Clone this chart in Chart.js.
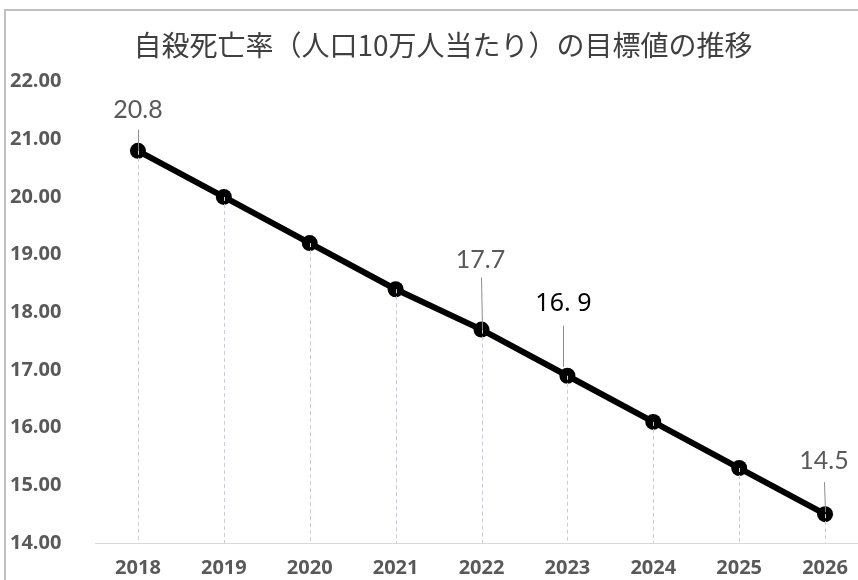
<!DOCTYPE html>
<html>
<head>
<meta charset="utf-8">
<script src="https://cdn.jsdelivr.net/npm/chart.js@4/dist/chart.umd.min.js"></script>
<style>
  html, body { margin: 0; padding: 0; width: 858px; height: 580px; overflow: hidden; background: #fff; }
  #marco { position: absolute; left: 4px; top: 9px; width: 870px; height: 569px;
           border-top: 2px solid #c0c0c0; border-left: 2px solid #bfbfbf; }
</style>
</head>
<body>
<div id="marco"><canvas id="myChart" width="870" height="569"></canvas></div>
<script>
// Datos
const anios = ["2018", "2019", "2020", "2021", "2022", "2023", "2024", "2025", "2026"];
const tasas = [20.8, 20.0, 19.2, 18.4, 17.7, 16.9, 16.1, 15.3, 14.5];
const etiquetas = ["20.8", "", "", "", "17.7", "16. 9", "", "", "14.5"];
const titulo = "自殺死亡率（人口10万人当たり）の目標値の推移";

// Posición de las etiquetas respecto al punto
const estiloEtiqueta = {
  0: { dx: 0, dy: 41, desde: 20, hasta: 0, recta: false, color: "#595959", font: "25px Lato" },
  4: { dx: -1, dy: 70, desde: 18, hasta: 0, recta: false, color: "#595959", font: "25px Lato" },
  5: { dx: -4, dy: 72, desde: 22, hasta: 9, recta: true, color: "#000", font: "25px 'Noto Sans'" },
  8: { dx: -1, dy: 53, desde: 21, hasta: 2, recta: false, color: "#595959", font: "25px Lato" },
};

// Líneas verticales punteadas y etiquetas
const lineasYEtiquetas = {
  id: "lineasYEtiquetas",
  afterDatasetsDraw(chart) {
    const ctx = chart.ctx;
    const puntos = chart.getDatasetMeta(0).data;
    const abajo = chart.chartArea.bottom;
    ctx.save();
    ctx.strokeStyle = "#c9ced6";
    ctx.lineWidth = 1;
    ctx.setLineDash([4, 3]);
    puntos.forEach((p) => {
      const x = Math.round(p.x) + 0.5;
      ctx.beginPath();
      ctx.moveTo(x, p.y);
      ctx.lineTo(x, abajo);
      ctx.stroke();
    });
    ctx.setLineDash([]);

    etiquetas.forEach((texto, i) => {
      if (!texto) return;
      const e = estiloEtiqueta[i];
      const p = puntos[i];
      const lx = p.x + e.dx;
      const ly = p.y - e.dy;
      const finX = e.recta ? lx : p.x;
      ctx.strokeStyle = "#8c8c8c";
      ctx.lineWidth = 1;
      ctx.beginPath();
      ctx.moveTo(Math.round(lx) + 0.5, ly + e.desde);
      ctx.lineTo(Math.round(finX) + 0.5, p.y - e.hasta);
      ctx.stroke();
      ctx.fillStyle = e.color;
      ctx.font = e.font;
      ctx.textAlign = "center";
      ctx.textBaseline = "middle";
      ctx.fillText(texto, lx, ly);
    });
    ctx.restore();
  },
};

const config = {
  type: "line",
  data: {
    labels: anios,
    datasets: [
      {
        data: tasas,
        borderColor: "#000",
        backgroundColor: "#000",
        borderWidth: 6,
        pointRadius: 8,
        pointBackgroundColor: "#000",
        pointBorderWidth: 0,
        tension: 0,
      },
    ],
  },
  options: {
    responsive: false,
    animation: false,
    layout: { padding: { left: 4, right: 0, top: 0, bottom: 0 } },
    plugins: {
      legend: { display: false },
      tooltip: { enabled: false },
      title: {
        display: true,
        text: titulo,
        color: "#404040",
        font: { family: "'Noto Sans CJK JP'", size: 28, weight: "normal" },
        padding: { top: 18, bottom: 19 },
      },
    },
    scales: {
      x: {
        offset: true,
        grid: { display: false, drawTicks: false },
        border: { display: true, color: "#d9d9d9", width: 1 },
        ticks: {
          color: "#595959",
          font: { family: "'Open Sans'", size: 20, weight: "bold" },
          padding: 13,
          maxRotation: 0,
        },
        afterFit: (scale) => { scale.height = 37; },
      },
      y: {
        min: 14,
        max: 22,
        grid: { display: false, drawTicks: false },
        border: { display: false },
        ticks: {
          stepSize: 1,
          crossAlign: "far",
          color: "#595959",
          font: { family: "'Open Sans'", size: 20, weight: "bold" },
          callback: (v) => Number(v).toFixed(2),
        },
        afterFit: (scale) => { scale.width = 85; },
      },
    },
  },
  plugins: [lineasYEtiquetas],
};

new Chart(document.getElementById("myChart").getContext("2d"), config);
</script>
</body>
</html>
